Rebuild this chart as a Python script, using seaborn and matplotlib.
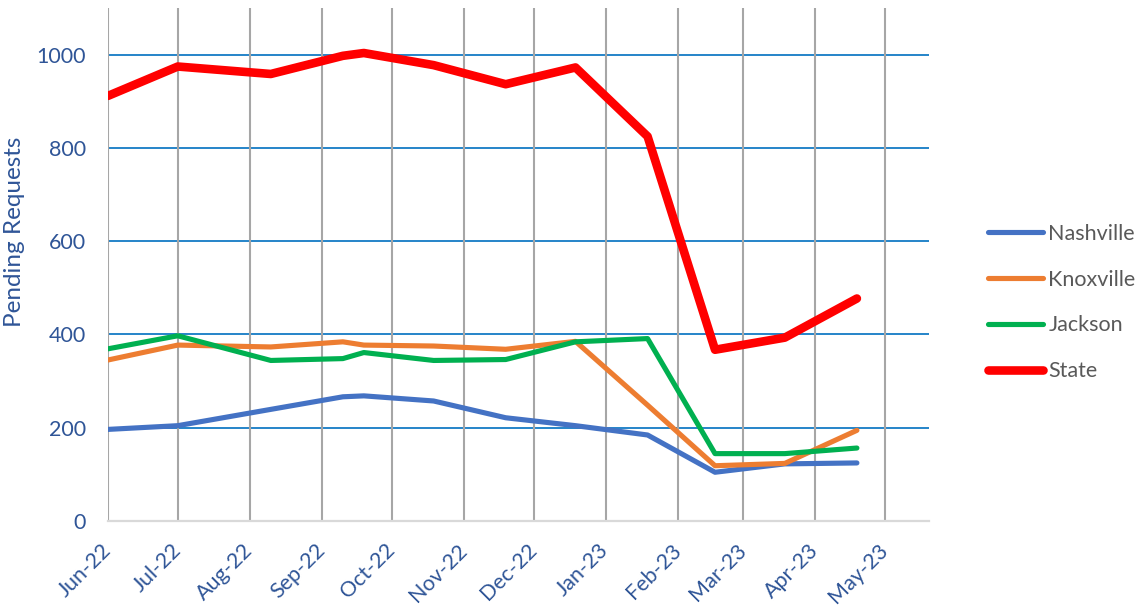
import pandas as pd
import numpy as np
import matplotlib
matplotlib.use("Agg")
import matplotlib.pyplot as plt
import matplotlib.dates as mdates
import seaborn as sns

# data
dates = ["2022-06-01", "2022-07-01", "2022-08-10", "2022-09-10", "2022-09-19", "2022-10-19",
         "2022-11-19", "2022-12-19", "2023-01-19", "2023-02-17", "2023-03-19", "2023-04-19"]
nashville = [196, 204, 239, 266, 268, 257, 221, 204, 184, 104, 122, 124]
knoxville = [345, 377, 373, 384, 377, 375, 368, 385, 248, 118, 123, 194]
jackson = [369, 397, 344, 348, 361, 344, 346, 384, 391, 144, 144, 156]
state = [912, 975, 959, 998, 1004, 978, 937, 973, 825, 367, 393, 477]

series = ["Nashville", "Knoxville", "Jackson", "State"]
colors = {"Nashville": "#4472C4", "Knoxville": "#ED7D31", "Jackson": "#00B050", "State": "#FF0000"}
widths = {"Nashville": 3.7, "Knoxville": 3.7, "Jackson": 3.7, "State": 6.2}

df = pd.DataFrame({"date": pd.to_datetime(dates), "Nashville": nashville,
                   "Knoxville": knoxville, "Jackson": jackson, "State": state})
long_df = df.melt(id_vars="date", var_name="city", value_name="pending")

sns.set_theme(style="white")
plt.rcParams["font.family"] = ["Lato", "DejaVu Sans"]

tick_color = "#2F5597"

fig = plt.figure(figsize=(11.41, 6.05), dpi=100)
ax = fig.add_axes([108 / 1141, 1 - 520.7 / 605, (929 - 108) / 1141, (520.7 - 8.3) / 605])

for name in series:
    sub = long_df[long_df["city"] == name]
    sns.lineplot(data=sub, x="date", y="pending", ax=ax, color=colors[name],
                 linewidth=widths[name], label=name, solid_capstyle="round",
                 solid_joinstyle="round", zorder=3)

ax.set_xlim(pd.Timestamp("2022-06-01"), pd.Timestamp("2023-05-20"))
ax.set_ylim(0, 1100)
ax.set_yticks(np.arange(0, 1001, 200))
month_ticks = pd.date_range("2022-06-01", "2023-05-01", freq="MS")
ax.set_xticks(month_ticks)
ax.xaxis.set_major_formatter(mdates.DateFormatter("%b-%y"))

# grid: blue horizontals, grey verticals
for v in range(200, 1001, 200):
    ax.axhline(v, color="#0070C0", linewidth=1.2, zorder=1)
for d in month_ticks:
    ax.axvline(d, color="#A6A6A6", linewidth=1.5, zorder=1)

for side in ["top", "right", "left"]:
    ax.spines[side].set_visible(False)
ax.spines["bottom"].set_color("#D9D9D9")
ax.spines["bottom"].set_linewidth(1.6)

ax.tick_params(axis="y", length=0, pad=16, labelsize=15.5, labelcolor=tick_color)
ax.tick_params(axis="x", length=0, pad=19, labelsize=15.5, labelcolor=tick_color)
for lbl in ax.get_xticklabels():
    lbl.set_rotation(45)
    lbl.set_ha("right")
    lbl.set_va("center")
    lbl.set_rotation_mode("anchor")

ax.set_xlabel("")
ax.set_ylabel("Pending Requests", fontsize=17.5, color=tick_color)
ax.yaxis.set_label_coords(-0.101, 0.563)

leg = ax.legend(loc="center left", bbox_to_anchor=(988 / 1141, 0.5), bbox_transform=fig.transFigure,
                frameon=False, fontsize=15.5, handlelength=2.55, handletextpad=0.25,
                labelspacing=1.2, borderpad=0, borderaxespad=0)
for text in leg.get_texts():
    text.set_color("#595959")
for line in leg.get_lines():
    line.set_solid_capstyle("round")

fig.savefig("out.png", dpi=100)
